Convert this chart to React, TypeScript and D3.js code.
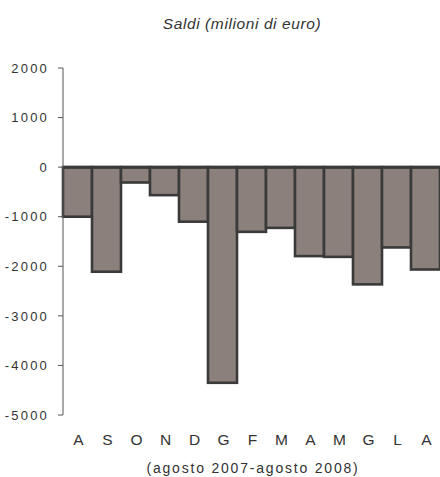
import React from "react";
import * as d3 from "d3";

// Monthly balances, August 2007 – August 2008 (millions of euro)
const months = ["A", "S", "O", "N", "D", "G", "F", "M", "A", "M", "G", "L", "A"];
const balances = [-1000, -2110, -310, -565, -1100, -4350, -1305, -1225, -1795, -1810, -2365, -1620, -2065];
const yTicks = [2000, 1000, 0, -1000, -2000, -3000, -4000, -5000];

const W = 440;
const H = 477;
const FONT = "'Liberation Sans', Arial, Helvetica, sans-serif";

export default function App() {
  const x = d3
    .scaleBand<number>()
    .domain(months.map((_, i) => i))
    .range([63, 440])
    .padding(0);
  const y = d3.scaleLinear().domain([-5000, 2000]).range([415, 68]);
  const axisX = 63;

  return (
    <svg
      width={W}
      height={H}
      style={{ position: "absolute", left: 0, top: 0, background: "#fff" }}
    >
      <text
        x={242}
        y={29}
        textAnchor="middle"
        fontFamily={FONT}
        fontStyle="italic"
        fontSize={15.5}
        letterSpacing={0.6}
        fill="#333"
      >
        Saldi (milioni di euro)
      </text>

      {/* bars */}
      {balances.map((v, i) => {
        const x0 = x(i)!;
        const top = y(Math.max(0, v));
        const bottom = y(Math.min(0, v));
        return (
          <rect
            key={i}
            x={x0}
            y={top}
            width={x.bandwidth()}
            height={bottom - top}
            fill="#8c807c"
            stroke="#3a3a3a"
            strokeWidth={2.6}
          />
        );
      })}

      {/* zero line */}
      <line x1={axisX} x2={W} y1={y(0)} y2={y(0)} stroke="#3a3a3a" strokeWidth={3} />

      {/* y axis */}
      <line x1={axisX} x2={axisX} y1={y(2000)} y2={y(-5000)} stroke="#555" strokeWidth={1} />
      {yTicks.map((t) => (
        <g key={t}>
          <line x1={58} x2={axisX} y1={y(t)} y2={y(t)} stroke="#555" strokeWidth={1} />
          <text
            x={49}
            y={y(t)}
            dy="0.36em"
            textAnchor="end"
            fontFamily={FONT}
            fontSize={13}
            letterSpacing={2.2}
            fill="#333"
          >
            {t}
          </text>
        </g>
      ))}

      {/* month labels */}
      {months.map((m, i) => (
        <text
          key={i}
          x={x(i)! + x.bandwidth() / 2 + 1}
          y={445}
          textAnchor="middle"
          fontFamily={FONT}
          fontSize={15.5}
          fill="#333"
        >
          {m}
        </text>
      ))}

      <text
        x={253}
        y={473}
        textAnchor="middle"
        fontFamily={FONT}
        fontSize={14}
        letterSpacing={1.8}
        fill="#333"
      >
        (agosto 2007-agosto 2008)
      </text>
    </svg>
  );
}
